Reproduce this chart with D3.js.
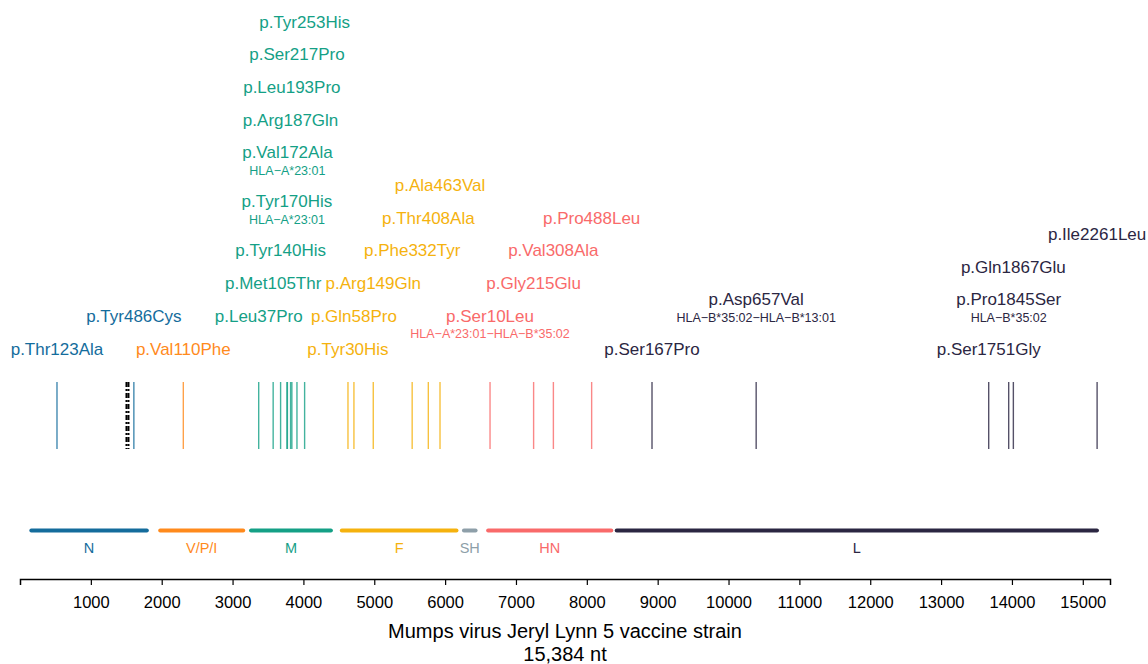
<!DOCTYPE html>
<html>
<head>
<meta charset="utf-8">
<script src="https://cdn.jsdelivr.net/npm/d3@7"></script>
<style>
  body { margin: 0; background: #fff; }
  text { font-family: "Liberation Sans", Arial, sans-serif; }
</style>
</head>
<body>
<script>

// genome
var genomeLength = 15384
var axisTicks = [1000,2000,3000,4000,5000,6000,7000,8000,9000,10000,11000,12000,13000,14000,15000]

// genes (nt)
var genes = ["N", "V/P/I", "M", "F", "SH", "HN", "L"]
var geneStart = [160, 1979, 3261, 4542, 6266, 6607, 8422]
var geneEnd = [1790, 3150, 4388, 6160, 6430, 8345, 15200]

// amino acid changes
var mutLabels = ["p.Thr123Ala","p.Tyr486Cys","p.Val110Phe",
  "p.Leu37Pro","p.Met105Thr","p.Tyr140His","p.Tyr170His","p.Val172Ala","p.Arg187Gln","p.Leu193Pro","p.Ser217Pro","p.Tyr253His",
  "p.Tyr30His","p.Gln58Pro","p.Arg149Gln","p.Phe332Tyr","p.Thr408Ala","p.Ala463Val",
  "p.Ser10Leu","p.Gly215Glu","p.Val308Ala","p.Pro488Leu",
  "p.Ser167Pro","p.Asp657Val","p.Ser1751Gly","p.Pro1845Ser","p.Gln1867Glu","p.Ile2261Leu"]
var mutGene = ["N","N","V/P/I",
  "M","M","M","M","M","M","M","M","M",
  "F","F","F","F","F","F",
  "HN","HN","HN","HN",
  "L","L","L","L","L","L"]
var mutPos = [522, 1607, 2305,
  3369, 3573, 3678, 3768, 3774, 3819, 3837, 3909, 4017,
  4629, 4713, 4986, 5535, 5763, 5928,
  6634, 7249, 7528, 8068,
  8920, 10390, 13672, 13954, 14020, 15202]
var mutHLA = ["","","",
  "","","","HLA\u2212A*23:01","HLA\u2212A*23:01","","","","",
  "","","","","","",
  "HLA\u2212A*23:01\u2212HLA\u2212B*35:02","","","",
  "","HLA\u2212B*35:02\u2212HLA\u2212B*13:01","","HLA\u2212B*35:02","",""]
// stacking tier of each label block (as seen in the figure)
var mutTier = [0, 2, 0,
  2, 4, 6, 8, 11, 14, 16, 18, 20,
  0, 2, 4, 6, 8, 10,
  1, 4, 6, 8,
  0, 2, 0, 2, 5, 7]

// other sites drawn as dashed black lines
var otherPos = [1503, 1531]

var geneColors = ["#146c9c", "#ff8a1c", "#14a086", "#f5b20e", "#8e9fa9", "#f96a6a", "#2b2642"]

var W = 1148, H = 664

var svg = d3.select("body").append("svg")
  .attr("width", W)
  .attr("height", H)

var x = d3.scaleLinear().domain([0, genomeLength]).range([20, 1110])
var color = d3.scaleOrdinal().domain(genes).range(geneColors)

var tierBase = 354.5, tierStep = 16.35
function tierY(t) { return tierBase - t * tierStep }

var muts = mutLabels.map(function(d, i){
  return { label: d, gene: mutGene[i], pos: mutPos[i], hla: mutHLA[i], tier: mutTier[i] }
})

// variant lines
svg.append("g").selectAll("line")
  .data(muts)
  .enter()
  .append("line")
  .attr("x1", function(d){ return x(d.pos) })
  .attr("x2", function(d){ return x(d.pos) })
  .attr("y1", 382)
  .attr("y2", 449)
  .style("stroke", function(d){ return color(d.gene) })
  .style("stroke-width", 1.4)
  .style("stroke-opacity", 0.8)

svg.append("g").selectAll("line")
  .data(otherPos)
  .enter()
  .append("line")
  .attr("x1", function(d){ return x(d) })
  .attr("x2", function(d){ return x(d) })
  .attr("y1", 382)
  .attr("y2", 449)
  .style("stroke", "#000")
  .style("stroke-width", 2)
  .style("stroke-dasharray", "5,2,2,2")

// labels
var lab = svg.append("g").selectAll("g")
  .data(muts)
  .enter()
  .append("g")

lab.append("text")
  .attr("x", function(d){ return x(d.pos) })
  .attr("y", function(d){ return tierY(d.hla ? d.tier + 1 : d.tier) })
  .attr("text-anchor", "middle")
  .style("font-size", "17px")
  .style("fill", function(d){ return color(d.gene) })
  .text(function(d){ return d.label })

lab.filter(function(d){ return d.hla != "" })
  .append("text")
  .attr("x", function(d){ return x(d.pos) })
  .attr("y", function(d){ return tierY(d.tier) })
  .attr("text-anchor", "middle")
  .style("font-size", "12.5px")
  .style("fill", function(d){ return color(d.gene) })
  .text(function(d){ return d.hla })

// gene bars
var geneG = svg.append("g").selectAll("g")
  .data(genes)
  .enter()
  .append("g")

geneG.append("line")
  .attr("x1", function(d, i){ return x(geneStart[i]) })
  .attr("x2", function(d, i){ return x(geneEnd[i]) })
  .attr("y1", 530.5)
  .attr("y2", 530.5)
  .style("stroke", function(d){ return color(d) })
  .style("stroke-width", 4)
  .style("stroke-linecap", "round")

geneG.append("text")
  .attr("x", function(d, i){ return x((geneStart[i] + geneEnd[i]) / 2) })
  .attr("y", 553)
  .attr("text-anchor", "middle")
  .style("font-size", "14.5px")
  .style("fill", function(d){ return color(d) })
  .text(function(d){ return d })

// axis
var axis = svg.append("g")
  .attr("transform", "translate(0,579)")
  .call(d3.axisBottom(x).tickValues(axisTicks).tickFormat(d3.format("d"))
    .tickSize(6).tickSizeOuter(6).tickPadding(11))

axis.select(".domain").style("stroke", "#000").style("stroke-width", 1.5)
axis.selectAll(".tick line").style("stroke", "#000").style("stroke-width", 1.2)
axis.selectAll(".tick text")
  .style("font-size", "16.5px")
  .style("font-family", "Liberation Sans, Arial, sans-serif")
  .style("fill", "#000")

svg.append("text")
  .attr("x", x(genomeLength / 2))
  .attr("y", 638)
  .attr("text-anchor", "middle")
  .style("font-size", "20px")
  .text("Mumps virus Jeryl Lynn 5 vaccine strain")

svg.append("text")
  .attr("x", x(genomeLength / 2))
  .attr("y", 661)
  .attr("text-anchor", "middle")
  .style("font-size", "20px")
  .text(d3.format(",")(genomeLength) + " nt")

</script>
</body>
</html>
